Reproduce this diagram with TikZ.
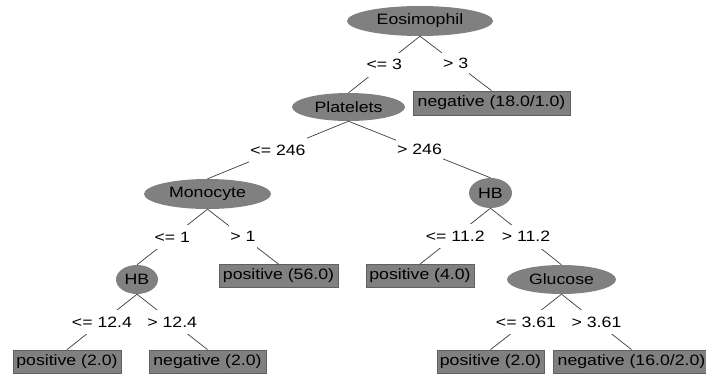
\documentclass[tikz,border=0pt]{standalone}
\usepackage{fontspec}
\setmainfont{Liberation Sans}[FakeStretch=1.18]
\usetikzlibrary{shapes.geometric}
\definecolor{nodegray}{RGB}{128,128,128}
\definecolor{boxedge}{RGB}{96,96,96}
\definecolor{edgecol}{RGB}{60,60,60}
\begin{document}
\begin{tikzpicture}[x=1pt,y=-1pt,
  every node/.style={font=\fontsize{15}{18}\selectfont, text=black},
  attr/.style={ellipse, fill=nodegray, draw=none, inner sep=0pt},
  leaf/.style={rectangle, fill=nodegray, draw=boxedge, line width=0.8pt, inner sep=0pt, minimum height=23pt},
  edge/.style={draw=edgecol, line width=0.7pt},
  lbl/.style={fill=white, inner xsep=1pt, inner ysep=0pt, minimum height=24pt, pos=0.5}]
\useasboundingbox (0,0) rectangle (706,376);
\fill[white] (0,0) rectangle (706,376);
\begin{scope}
\clip (0,0) rectangle (706,376);
% attribute nodes
\node[attr, minimum width=146pt, minimum height=30pt] (E) at (420,21) {Eosimophil};
\node[attr, minimum width=113pt, minimum height=28pt] (P) at (348.5,107) {Platelets};
\node[attr, minimum width=127pt, minimum height=30pt] (M) at (207.5,194) {Monocyte};
\node[attr, minimum width=42pt, minimum height=29pt] (H1) at (137,279.5) {HB};
\node[attr, minimum width=43pt, minimum height=30pt] (H2) at (490.5,193) {HB};
\node[attr, minimum width=109pt, minimum height=29pt] (G) at (561.5,279.5) {Glucose};
% leaves
\node[leaf, minimum width=157pt, minimum height=24pt] (L1) at (491.5,103) {negative (18.0/1.0)};
\node[leaf, minimum width=119pt] (L2) at (278.5,276) {positive (56.0)};
\node[leaf, minimum width=108pt] (L3) at (67,361.5) {positive (2.0)};
\node[leaf, minimum width=117pt] (L4) at (207.5,361.5) {negative (2.0)};
\node[leaf, minimum width=108pt] (L5) at (420,276) {positive (4.0)};
\node[leaf, minimum width=107pt] (L6) at (490.5,361.5) {positive (2.0)};
\node[leaf, minimum width=157pt] (L7) at (631.5,361.5) {negative (16.0/2.0)};
% edges with labels
\draw[edge] (E.south) -- node[lbl] {<= 3} (P.north);
\draw[edge] (E.south) -- node[lbl] {> 3} (L1.north);
\draw[edge] (P.south) -- node[lbl] {<= 246} (M.north);
\draw[edge] (P.south) -- node[lbl] {> 246} (H2.north);
\draw[edge] (M.south) -- node[lbl] {<= 1} (H1.north);
\draw[edge] (M.south) -- node[lbl] {> 1} (L2.north);
\draw[edge] (H1.south) -- node[lbl] {<= 12.4} (L3.north);
\draw[edge] (H1.south) -- node[lbl] {> 12.4} (L4.north);
\draw[edge] (H2.south) -- node[lbl] {<= 11.2} (L5.north);
\draw[edge] (H2.south) -- node[lbl] {> 11.2} (G.north);
\draw[edge] (G.south) -- node[lbl] {<= 3.61} (L6.north);
\draw[edge] (G.south) -- node[lbl] {> 3.61} (L7.north);
\end{scope}
\end{tikzpicture}
\end{document}
